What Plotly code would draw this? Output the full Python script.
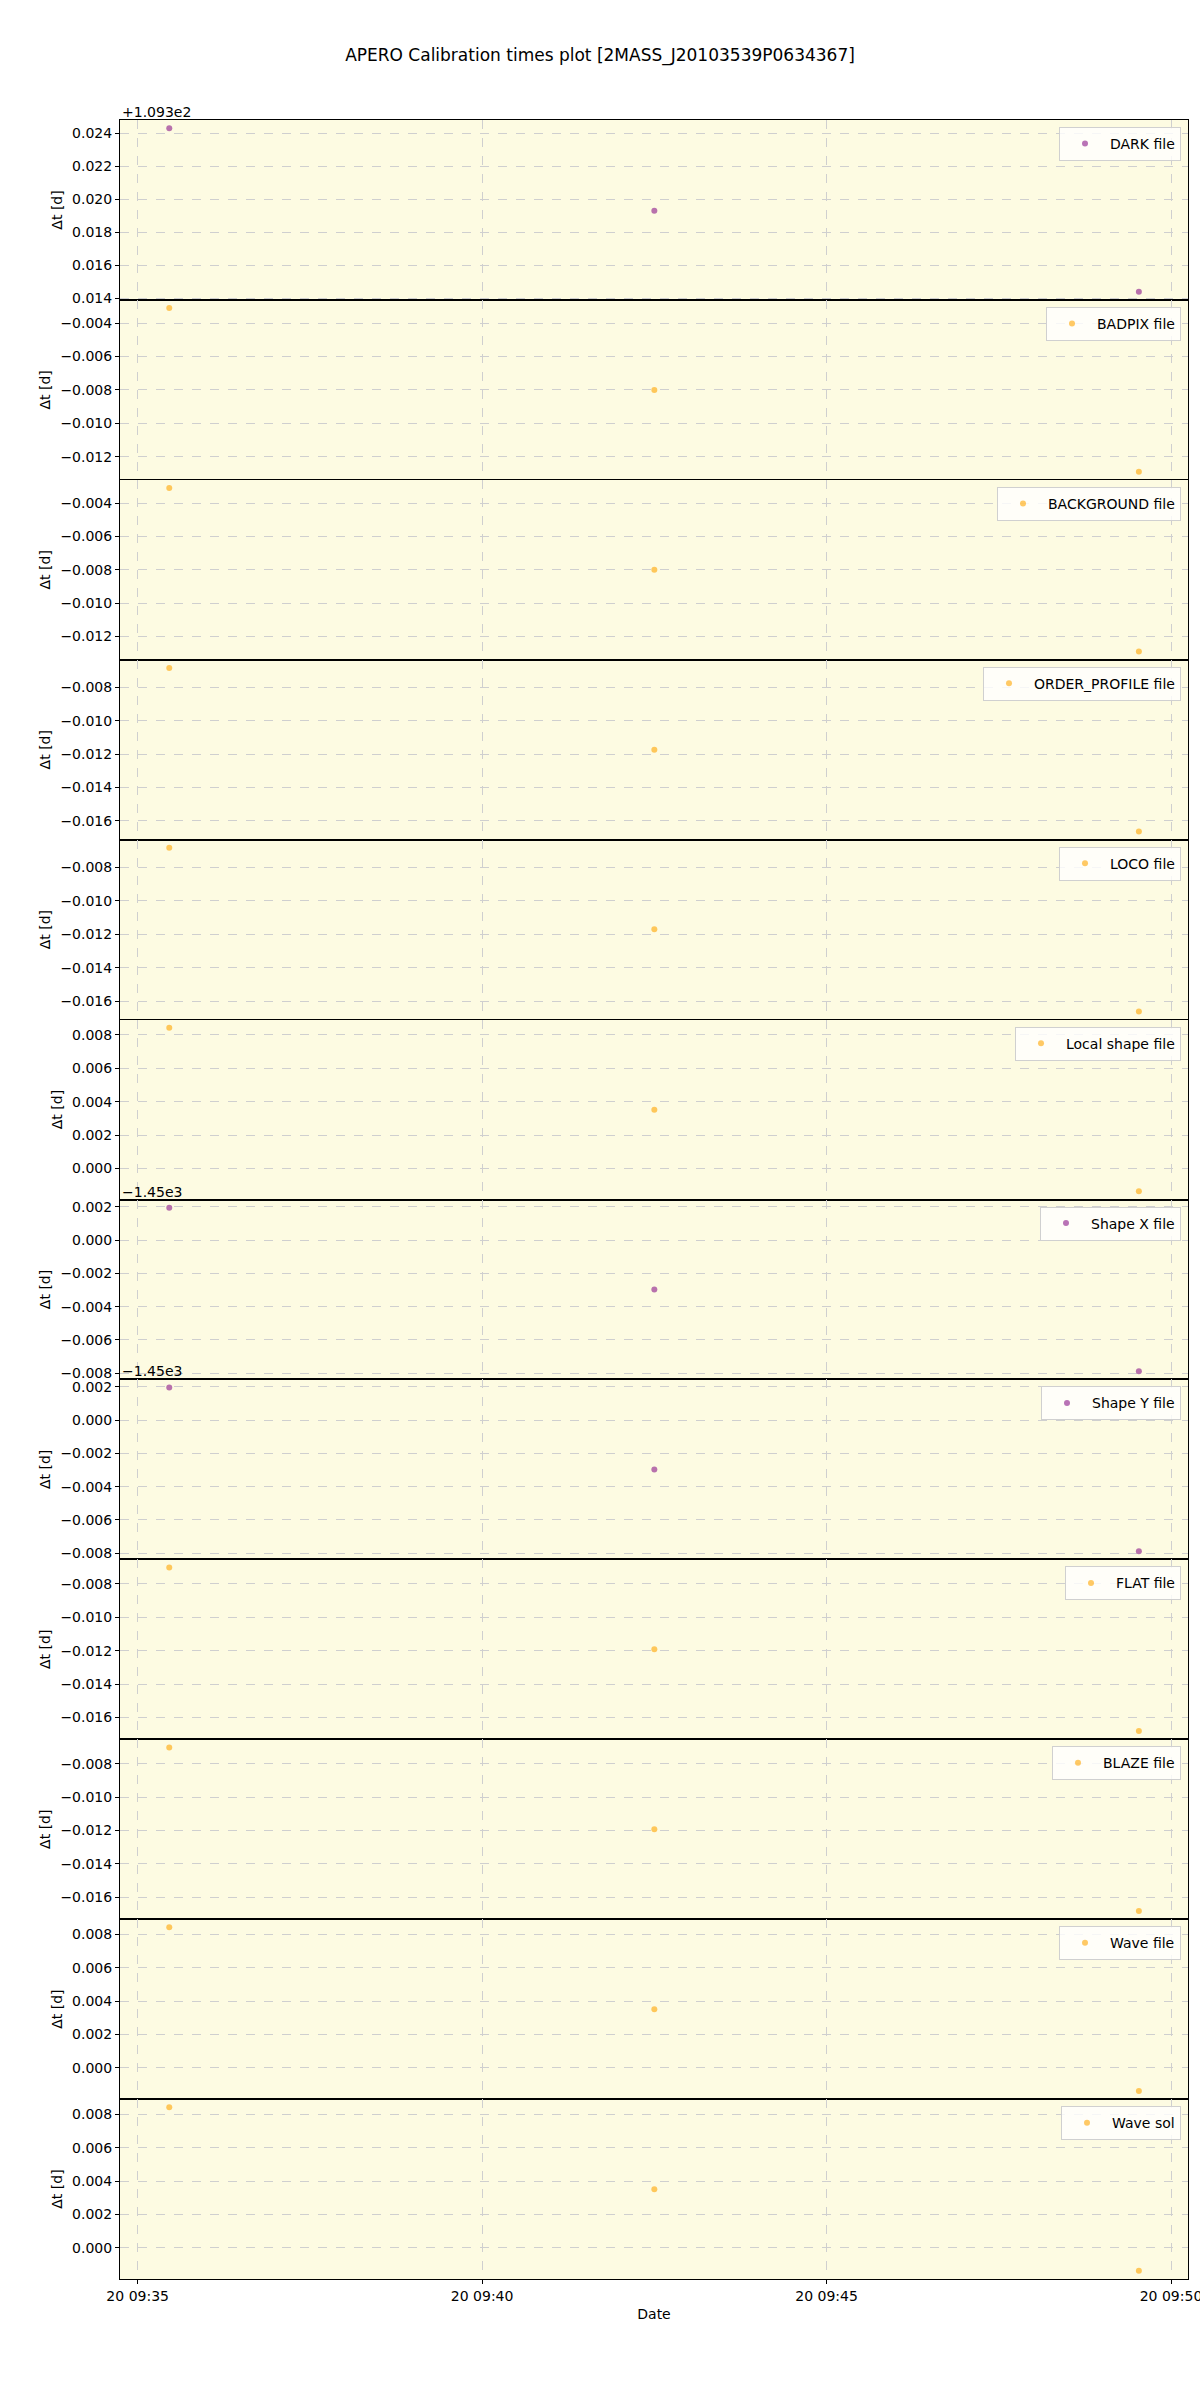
import plotly.graph_objects as go
from plotly.subplots import make_subplots

# ---- data ----
times = ["2022-06-20 09:35:27.5", "2022-06-20 09:42:30", "2022-06-20 09:49:32"]
labels = ["DARK file", "BADPIX file", "BACKGROUND file", "ORDER_PROFILE file",
          "LOCO file", "Local shape file", "Shape X file", "Shape Y file",
          "FLAT file", "BLAZE file", "Wave file", "Wave sol"]
dark = [109.3243, 109.3193, 109.3144]
badpix = [-0.0031, -0.0080, -0.0129]
background = [-0.0031, -0.0080, -0.0129]
order_profile = [-0.00684, -0.01174, -0.01663]
loco = [-0.00684, -0.01170, -0.01660]
local_shape = [0.00843, 0.00352, -0.00137]
shape_x = [-1449.99805, -1450.00297, -1450.00788]
shape_y = [-1449.99805, -1450.00297, -1450.00788]
flat = [-0.00702, -0.01192, -0.01682]
blaze = [-0.00702, -0.01192, -0.01682]
wave_file = [0.00842, 0.00351, -0.00138]
wave_sol = [0.00842, 0.00351, -0.00138]
series = [dark, badpix, background, order_profile, loco, local_shape,
          shape_x, shape_y, flat, blaze, wave_file, wave_sol]
offsets = [109.3, 0, 0, 0, 0, 0, -1450, -1450, 0, 0, 0, 0]
offset_text = ["+1.093e2", "", "", "", "", "", "\u22121.45e3", "\u22121.45e3", "", "", "", ""]
kinds = ["purple", "orange", "orange", "orange", "orange", "orange",
         "purple", "purple", "orange", "orange", "orange", "orange"]
x_range = ["2022-06-20 09:34:44.6", "2022-06-20 09:50:14.8"]
x_ticks = ["2022-06-20 09:35", "2022-06-20 09:40", "2022-06-20 09:45", "2022-06-20 09:50"]

colors = {"purple": "rgba(128,0,128,0.55)", "orange": "rgba(255,165,0,0.6)"}
FONT = "DejaVu Sans"
FS = 14
n = len(series)

fig = make_subplots(rows=n, cols=1, shared_xaxes=True, vertical_spacing=0)

W, H = 1200, 2400
L, R, T, B = 120, 12, 120, 121
plot_h = H - T - B

for i, (vals, off, lab, kind) in enumerate(zip(series, offsets, labels, kinds)):
    y = [v - off for v in vals]
    leg = "legend" if i == 0 else f"legend{i+1}"
    fig.add_trace(go.Scatter(x=times, y=y, mode="markers", name=lab,
                             marker=dict(size=6, color=colors[kind]),
                             legend=leg, showlegend=True), row=i + 1, col=1)
    lo, hi = min(y), max(y)
    pad = (hi - lo) * 0.05
    fig.update_yaxes(range=[lo - pad, hi + pad], dtick=0.002, tick0=0,
                     tickformat=".3f", row=i + 1, col=1)
    top = 1 - i / n
    fig.layout[leg] = dict(x=1 - 7 / (W - L - R), y=top - 7 / plot_h,
                           xanchor="right", yanchor="top", itemwidth=40,
                           bgcolor="rgba(255,255,255,0.8)", bordercolor="#d0d0d0",
                           borderwidth=1, font=dict(family=FONT, size=FS, color="black"))
    if offset_text[i]:
        fig.add_annotation(text=offset_text[i], xref="paper", yref="paper",
                           x=0, y=top, xanchor="left", yanchor="bottom",
                           showarrow=False, font=dict(family=FONT, size=FS, color="black"),
                           yshift=-2)

fig.update_yaxes(showline=True, mirror=True, linecolor="black", linewidth=1,
                 ticks="outside", ticklen=4, tickcolor="black", automargin=False,
                 showgrid=True, gridcolor="#cfcfcf", griddash="dash", gridwidth=1,
                 zeroline=False, title=dict(text="\u0394t [d]", font=dict(family=FONT, size=FS), standoff=6),
                 tickfont=dict(family=FONT, size=FS, color="black"))
fig.update_xaxes(showline=True, mirror=True, linecolor="black", linewidth=1,
                 range=x_range, tickvals=x_ticks, tickformat="%d %H:%M", automargin=False,
                 ticklabeloverflow="allow",
                 showgrid=True, gridcolor="#cfcfcf", griddash="dash", gridwidth=1,
                 zeroline=False, tickfont=dict(family=FONT, size=FS, color="black"))
fig.update_xaxes(ticks="outside", ticklen=4, tickcolor="black",
                 title=dict(text="Date", font=dict(family=FONT, size=FS), standoff=6),
                 row=n, col=1)

fig.update_layout(width=W, height=H, margin=dict(l=L, r=R, t=T, b=B),
                  paper_bgcolor="white", plot_bgcolor="#fdfbe2",
                  font=dict(family=FONT, size=FS, color="black"),
                  title=dict(text="APERO Calibration times plot [2MASS_J20103539P0634367]",
                             x=0.5, xanchor="center", y=1 - 55 / H, yanchor="middle",
                             font=dict(family=FONT, size=17, color="black")))

fig.write_html("out.html", config={"displayModeBar": False},
               post_script="document.body.style.margin='0';document.body.style.padding='0';")
